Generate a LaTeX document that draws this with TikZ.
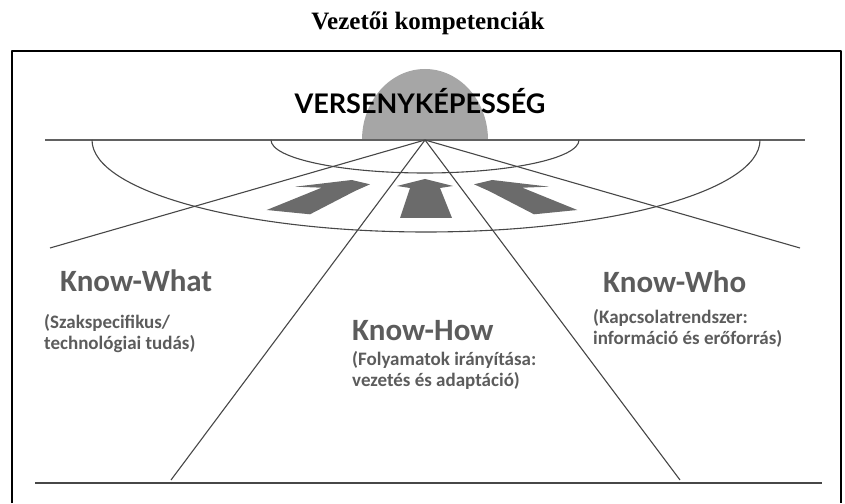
\documentclass[tikz,border=0pt]{standalone}
\usepackage{fontspec}
\setmainfont{Liberation Serif}
\newfontfamily\calibrifont{Carlito}
\newfontfamily\gillfont{Lato}

\begin{document}
\begin{tikzpicture}[x=1pt,y=1pt,line join=round,
  know node/.style={anchor=base west,inner sep=0pt,text=black!64,font=\calibrifont\bfseries\fontsize{31}{36}\selectfont},
  sub node/.style={anchor=north west,inner sep=0pt,align=left,text=black!64,font=\calibrifont\bfseries\fontsize{19}{21}\selectfont},
  ray/.style={draw=black!72,line width=1.1pt},
  flat arrow/.style={fill=black!58}]
  \useasboundingbox (0,0) rectangle (845,503);

  % frame and title
  \draw[line width=2pt] (12,0) -- (12,452) -- (841,452) -- (841,0);
  \node[anchor=base,inner sep=0pt,font=\bfseries\fontsize{25}{30}\selectfont] (title) at (428,473) {Vezetői kompetenciák};

  % sun behind the horizon
  \fill[black!35] (362,363) arc[start angle=180,end angle=0,x radius=63,y radius=71] -- cycle;
  \node[anchor=base,inner sep=0pt,font=\gillfont\bfseries\fontsize{27}{32}\selectfont] (sun) at (420,389) {VERSENYKÉPESSÉG};

  \coordinate (apex) at (425,363);
  \coordinate (hl) at (45,363);
  \coordinate (hr) at (805,363);
  \coordinate (bl) at (35,20);
  \coordinate (br) at (822,20);
  \coordinate (farl) at (50,255);
  \coordinate (farr) at (800,255);
  \coordinate (footl) at (171,23);
  \coordinate (footr) at (680,23);

  % horizon, ground and arcs
  \draw[draw=black!62,line width=1.6pt] (hl) -- (hr);
  \draw[ray] (bl) -- (br);
  \draw[ray] (271,363) arc[start angle=180,end angle=360,x radius=154,y radius=33];
  \draw[ray] (92,363) arc[start angle=180,end angle=360,x radius=334,y radius=92];

  % rays from the apex
  \draw[ray] (apex) -- (farl);
  \draw[ray] (apex) -- (farr);
  \draw[ray] (apex) -- (footl);
  \draw[ray] (apex) -- (footr);

  % arrows towards the apex
  \fill[flat arrow] (266.7,293) -- (321.7,315.3) -- (295,316.3) -- (351.7,323) -- (370,318.7) -- (355,312) -- (310,288.7) -- cycle;
  \fill[flat arrow] (400,285) -- (410,315) -- (397,317) -- (425,324) -- (453,317) -- (440,315) -- (452,285) -- cycle;
  \fill[flat arrow] (577.3,293) -- (522.3,315.3) -- (549,316.3) -- (492.3,323) -- (474,318.7) -- (489,312) -- (534,288.7) -- cycle;

  % the three kinds of knowledge
  \node[know node] (what) at (60,211) {Know-What};
  \node[sub node] (whatsub) at (44,189) {(Szakspecifikus/\\technológiai tudás)};
  \node[know node] (how) at (352,162) {Know-How};
  \node[sub node] (howsub) at (352,152) {(Folyamatok irányítása:\\vezetés és adaptáció)};
  \node[know node] (who) at (603,210) {Know-Who};
  \node[sub node] (whosub) at (593,194) {(Kapcsolatrendszer:\\információ és erőforrás)};
\end{tikzpicture}
\end{document}
